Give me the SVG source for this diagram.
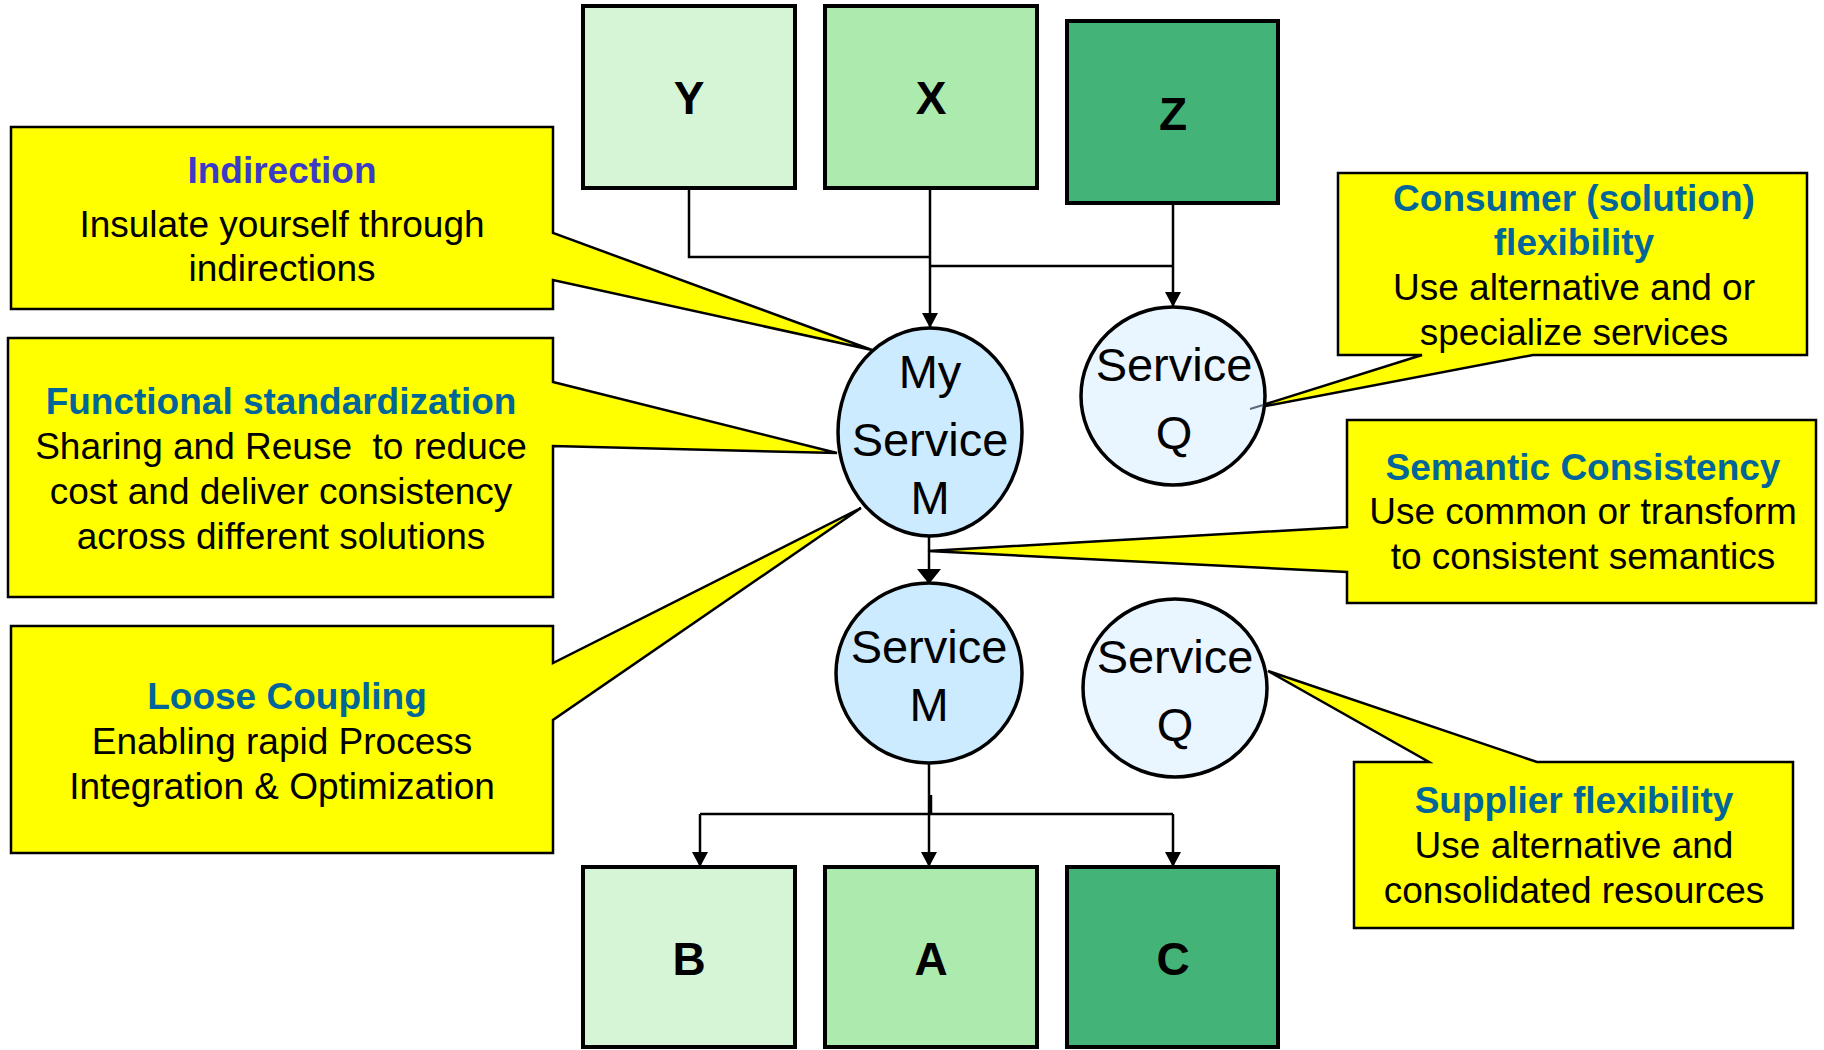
<svg xmlns="http://www.w3.org/2000/svg" width="1824" height="1050" viewBox="0 0 1824 1050">
<style>
  .callout { fill: #FFFF00; stroke: #000; stroke-width: 2.5; stroke-linejoin: miter; }
  .t { font-family: "Liberation Sans", Arial, sans-serif; font-size: 37px; text-anchor: middle; fill: #000; }
  .h { font-weight: bold; fill: #006699; }
  .hi { font-weight: bold; fill: #3B3BC8; }
  .box { stroke: #000; stroke-width: 4; }
  .lbl { font-family: "Liberation Sans", Arial, sans-serif; font-size: 46px; font-weight: bold; text-anchor: middle; fill: #000; }
  .svc { stroke: #000; stroke-width: 3.5; }
  .st { font-family: "Liberation Sans", Arial, sans-serif; font-size: 47px; text-anchor: middle; fill: #000; }
  .conn { fill: none; stroke: #000; stroke-width: 2.5; }
</style>
<defs>
  <marker id="arr" markerUnits="userSpaceOnUse" markerWidth="15" markerHeight="16" refX="15" refY="8" orient="auto" viewBox="0 0 15 16">
    <path d="M0,0 L15,8 L0,16 Z" fill="#000"/>
  </marker>
  <marker id="arrL" markerUnits="userSpaceOnUse" markerWidth="15" markerHeight="24" refX="15" refY="12" orient="auto" viewBox="0 0 15 24">
    <path d="M0,0 L15,12 L0,24 Z" fill="#000"/>
  </marker>
</defs>
<rect width="1824" height="1050" fill="#fff"/>

<g id="callout-indirection">
  <path class="callout" d="M11,127 H553 V233 L872,350 L553,280 V309 H11 Z"/>
  <text class="t hi" x="282" y="183">Indirection</text>
  <text class="t" x="282" y="237">Insulate yourself through</text>
  <text class="t" x="282" y="281">indirections</text>
</g>
<g id="callout-functional">
  <path class="callout" d="M8,338 H553 V382 L837,453 L553,446 V597 H8 Z"/>
  <text class="t h" x="281" y="414">Functional standardization</text>
  <text class="t" x="281" y="459" xml:space="preserve">Sharing and Reuse  to reduce</text>
  <text class="t" x="281" y="504">cost and deliver consistency</text>
  <text class="t" x="281" y="549">across different solutions</text>
</g>
<g id="callout-loose">
  <path class="callout" d="M11,626 H553 V663 L861,508 L553,720 V853 H11 Z"/>
  <text class="t h" x="287" y="709">Loose Coupling</text>
  <text class="t" x="282" y="754">Enabling rapid Process</text>
  <text class="t" x="282" y="799">Integration &amp; Optimization</text>
</g>
<g id="callout-consumer">
  <path class="callout" d="M1338,173 H1807 V355 H1533 L1250,409 L1422,355 H1338 Z"/>
  <text class="t h" x="1574" y="211">Consumer (solution)</text>
  <text class="t h" x="1574" y="255">flexibility</text>
  <text class="t" x="1574" y="300">Use alternative and or</text>
  <text class="t" x="1574" y="345">specialize services</text>
</g>
<g id="callout-semantic">
  <path class="callout" d="M1347,420 H1816 V603 H1347 V572 L928,551 L1347,527 Z"/>
  <text class="t h" x="1583" y="480">Semantic Consistency</text>
  <text class="t" x="1583" y="524">Use common or transform</text>
  <text class="t" x="1583" y="569">to consistent semantics</text>
</g>
<g id="callout-supplier">
  <path class="callout" d="M1354,762 H1429 L1268,671 L1537,762 H1793 V928 H1354 Z"/>
  <text class="t h" x="1574" y="813">Supplier flexibility</text>
  <text class="t" x="1574" y="858">Use alternative and</text>
  <text class="t" x="1574" y="903">consolidated resources</text>
</g>

<g id="connectors">
  <path class="conn" d="M689,188 V257 H931"/>
  <path class="conn" d="M930,188 V328" marker-end="url(#arr)"/>
  <path class="conn" d="M930,266 H1173"/>
  <path class="conn" d="M1173,203 V307" marker-end="url(#arr)"/>
  <path class="conn" d="M929,536 V584" marker-end="url(#arrL)"/>
  <path class="conn" d="M929,763 V867" marker-end="url(#arr)"/>
  <path class="conn" d="M931,795 V814"/>
  <path class="conn" d="M700,814 H1173"/>
  <path class="conn" d="M700,814 V867" marker-end="url(#arr)"/>
  <path class="conn" d="M1173,814 V867" marker-end="url(#arr)"/>
</g>

<g id="node-Y">
  <rect class="box" x="583" y="6" width="212" height="182" fill="#D6F5D6"/>
  <text class="lbl" x="689" y="114">Y</text>
</g>
<g id="node-X">
  <rect class="box" x="825" y="6" width="212" height="182" fill="#ADEAAD"/>
  <text class="lbl" x="931" y="114">X</text>
</g>
<g id="node-Z">
  <rect class="box" x="1067" y="21" width="211" height="182" fill="#44B377" stroke-width="5"/>
  <text class="lbl" x="1173" y="130">Z</text>
</g>

<g id="node-my-service-m">
  <ellipse class="svc" cx="930" cy="432" rx="92" ry="104" fill="#CCEBFF"/>
  <text class="st" x="930" y="388">My</text>
  <text class="st" x="930" y="456">Service</text>
  <text class="st" x="930" y="514">M</text>
</g>
<g id="node-service-q-top">
  <ellipse class="svc" cx="1173" cy="396" rx="92" ry="89" fill="#EAF6FF"/>
  <text class="st" x="1174" y="381">Service</text>
  <text class="st" x="1174" y="449">Q</text>
  <path d="M1250,409 L1263,405" stroke="#5A6A7A" stroke-width="2"/>
</g>
<g id="node-service-m">
  <ellipse class="svc" cx="929" cy="673" rx="93" ry="90" fill="#CCEBFF"/>
  <text class="st" x="929" y="663">Service</text>
  <text class="st" x="929" y="721">M</text>
</g>
<g id="node-service-q-bottom">
  <ellipse class="svc" cx="1175" cy="688" rx="92" ry="89" fill="#EAF6FF"/>
  <text class="st" x="1175" y="673">Service</text>
  <text class="st" x="1175" y="741">Q</text>
</g>

<g id="node-B">
  <rect class="box" x="583" y="867" width="212" height="180" fill="#D6F5D6"/>
  <text class="lbl" x="689" y="975">B</text>
</g>
<g id="node-A">
  <rect class="box" x="825" y="867" width="212" height="180" fill="#ADEAAD"/>
  <text class="lbl" x="931" y="975">A</text>
</g>
<g id="node-C">
  <rect class="box" x="1067" y="867" width="211" height="180" fill="#44B377" stroke-width="5"/>
  <text class="lbl" x="1173" y="975">C</text>
</g>
</svg>
